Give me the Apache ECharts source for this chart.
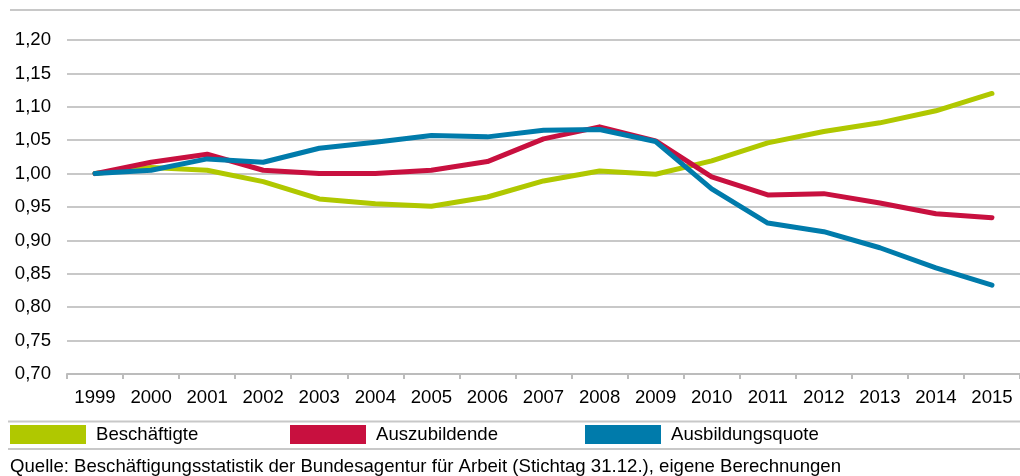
<!DOCTYPE html>
<html>
<head>
<meta charset="utf-8">
<script src="https://cdn.jsdelivr.net/npm/echarts@6/dist/echarts.min.js"></script>
<style>
html,body{margin:0;padding:0;background:#fff;}
#c{width:1020px;height:476px;}
</style>
</head>
<body>
<div id="c"></div>
<script>
const years = ['1999','2000','2001','2002','2003','2004','2005','2006','2007','2008','2009','2010','2011','2012','2013','2014','2015'];
const beschaeftigte = [1.000,1.009,1.005,0.988,0.962,0.955,0.951,0.965,0.989,1.004,0.999,1.019,1.046,1.063,1.076,1.094,1.120];
const auszubildende = [1.000,1.017,1.029,1.005,1.000,1.000,1.005,1.018,1.052,1.070,1.049,0.995,0.968,0.970,0.956,0.940,0.934];
const ausbildungsquote = [1.000,1.005,1.022,1.017,1.038,1.047,1.057,1.055,1.065,1.066,1.048,0.977,0.926,0.913,0.889,0.859,0.833];
const seriesNames = ['Beschäftigte','Auszubildende','Ausbildungsquote'];
const colors = ['#b0c800','#c8103f','#007bab'];
const sourceText = 'Quelle: Beschäftigungsstatistik der Bundesagentur für Arbeit (Stichtag 31.12.), eigene Berechnungen';

const FONT = '"Liberation Sans", Arial, sans-serif';
const FS = 18.6;
const chart = echarts.init(document.getElementById('c'), null, {renderer:'canvas'});
const seriesData = [beschaeftigte, auszubildende, ausbildungsquote];
const legendLefts = [10, 290, 585];

chart.setOption({
  animation:false,
  backgroundColor:'#fff',
  color: colors,
  textStyle:{fontFamily:FONT},
  grid:{left:67, right:0, top:40, bottom:102, containLabel:false},
  legend: seriesNames.map((n,i)=>({
    data:[n], left:legendLefts[i], top:425, itemWidth:76, itemHeight:19, itemGap:10,
    icon:'rect', selectedMode:false,
    textStyle:{fontSize:FS, color:'#000', fontFamily:FONT, padding:[0,0,0,5]},
    padding:0
  })),
  xAxis:{
    type:'category', data:years, boundaryGap:true,
    axisLine:{show:true, lineStyle:{color:'#bcbcbc', width:2}},
    axisTick:{show:true, length:5, alignWithLabel:false, lineStyle:{color:'#bcbcbc', width:2}},
    axisLabel:{fontSize:FS, color:'#000', margin:14, fontFamily:FONT, interval:0},
    splitLine:{show:false}
  },
  yAxis:{
    type:'value', min:0.70, max:1.20, interval:0.05,
    axisLine:{show:false}, axisTick:{show:false},
    axisLabel:{fontSize:FS, color:'#000', margin:16, fontFamily:FONT,
      formatter:v=>v.toFixed(2).replace('.',',')},
    splitLine:{show:true, lineStyle:{color:'#c8c8c8', width:2}}
  },
  series: seriesNames.map((n,i)=>({
    name:n, type:'line', data:seriesData[i], symbol:'none', smooth:false,
    lineStyle:{width:5, color:colors[i], cap:'round', join:'round'},
    itemStyle:{color:colors[i]}, z:2+i
  })),
  graphic:[
    {type:'line', shape:{x1:10,y1:10,x2:1020,y2:10}, style:{stroke:'#c8c8c8', lineWidth:2}},
    {type:'line', shape:{x1:8,y1:421.5,x2:1020,y2:421.5}, style:{stroke:'#c8c8c8', lineWidth:2}},
    {type:'line', shape:{x1:8,y1:449,x2:1020,y2:449}, style:{stroke:'#c8c8c8', lineWidth:2}},
    {type:'text', left:10, top:457, style:{text:sourceText, fontSize:FS, fill:'#000', fontFamily:FONT}}
  ]
});
</script>
</body>
</html>
